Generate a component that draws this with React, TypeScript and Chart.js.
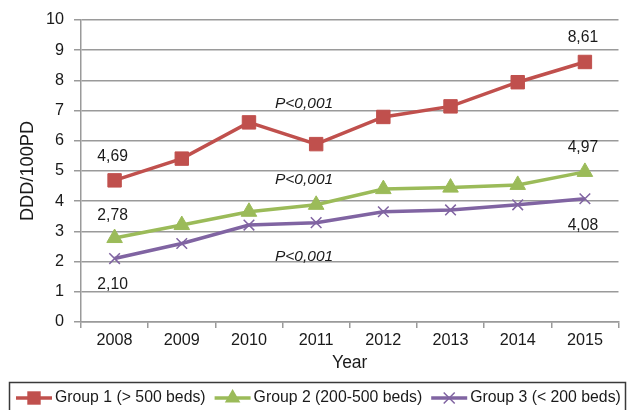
import React, { useEffect, useRef } from 'react';
import { Chart, registerables } from 'chart.js';

Chart.register(...registerables);

// ---- data ----
const years = ['2008', '2009', '2010', '2011', '2012', '2013', '2014', '2015'];
const group1 = [4.69, 5.41, 6.61, 5.89, 6.79, 7.14, 7.94, 8.61];
const group2 = [2.78, 3.21, 3.65, 3.88, 4.4, 4.45, 4.54, 4.97];
const group3 = [2.1, 2.6, 3.21, 3.29, 3.65, 3.71, 3.88, 4.08];
const seriesLabels = ['Group 1 (> 500 beds)', 'Group 2 (200-500 beds)', 'Group 3 (< 200 beds)'];
const yMin = 0;
const yMax = 10;
const yStep = 1;
const xTitle = 'Year';
const yTitle = 'DDD/100PD';
// value labels: [series index, category index, placement]
const valueLabelSeries = [0, 0, 1, 1, 2, 2];
const valueLabelIndex = [0, 7, 0, 7, 0, 7];
const valueLabelPlace = ['above', 'above', 'above', 'above', 'below', 'below'];
// significance annotations (category position, value)
const pText = 'P<0,001';
const pCategoryPos = [2.82, 2.82, 2.82];
const pValues = [7.23, 4.71, 2.15];

const colors = ['#C0504D', '#9BBB59', '#8064A2'];
const pointStyles = ['rect', 'triangle', 'crossRot'];
const FONT = "'Liberation Sans', Arial, sans-serif";
const TEXT = '#1a1a1a';
const GRID = '#9a9a9a';

function drawMarker(ctx: CanvasRenderingContext2D, style: string, x: number, y: number, color: string) {
  ctx.save();
  ctx.fillStyle = color;
  ctx.strokeStyle = color;
  if (style === 'rect') {
    const s = 6.7;
    ctx.fillRect(x - s, y - s, 2 * s, 2 * s);
  } else if (style === 'triangle') {
    const r = 9;
    ctx.beginPath();
    ctx.moveTo(x, y - r);
    ctx.lineTo(x + r * Math.sin((2 * Math.PI) / 3), y - r * Math.cos((2 * Math.PI) / 3));
    ctx.lineTo(x + r * Math.sin((4 * Math.PI) / 3), y - r * Math.cos((4 * Math.PI) / 3));
    ctx.closePath();
    ctx.fill();
  } else {
    const o = 5.5;
    ctx.lineWidth = 1.5;
    ctx.beginPath();
    ctx.moveTo(x - o, y - o);
    ctx.lineTo(x + o, y + o);
    ctx.moveTo(x + o, y - o);
    ctx.lineTo(x - o, y + o);
    ctx.stroke();
  }
  ctx.restore();
}

const annotationPlugin = {
  id: 'annotations',
  afterDatasetsDraw(chart: any) {
    const ctx = chart.ctx as CanvasRenderingContext2D;
    const xs = chart.scales.x;
    const ys = chart.scales.y;
    const seriesData = [group1, group2, group3];
    ctx.save();
    ctx.fillStyle = TEXT;
    ctx.font = `15.7px ${FONT}`;
    ctx.textAlign = 'center';
    ctx.textBaseline = 'middle';
    for (let i = 0; i < valueLabelSeries.length; i++) {
      const s = valueLabelSeries[i];
      const idx = valueLabelIndex[i];
      const v = seriesData[s][idx];
      const px = xs.getPixelForValue(idx) - 2;
      const py = ys.getPixelForValue(v);
      const text = v.toFixed(2).replace('.', ',');
      const dy = valueLabelPlace[i] === 'above' ? (s === 1 && idx === 0 ? -22.5 : -24) : 26.5;
      ctx.fillText(text, px, py + dy);
    }
    ctx.font = `italic 15.5px ${FONT}`;
    for (let i = 0; i < pValues.length; i++) {
      ctx.fillText(pText, xs.getPixelForValue(pCategoryPos[i]), ys.getPixelForValue(pValues[i]));
    }
    ctx.restore();
  },
  afterDraw(chart: any) {
    const ctx = chart.ctx as CanvasRenderingContext2D;
    ctx.save();
    // legend frame
    ctx.strokeStyle = '#3a3a3a';
    ctx.lineWidth = 1.5;
    ctx.strokeRect(9.5, 382.5, 616, 40);
    ctx.font = `15.8px ${FONT}`;
    ctx.textBaseline = 'middle';
    ctx.textAlign = 'left';
    const cy = 398;
    let x = 16;
    for (let i = 0; i < seriesLabels.length; i++) {
      ctx.strokeStyle = colors[i];
      ctx.lineWidth = 3.5;
      ctx.beginPath();
      ctx.moveTo(x, cy);
      ctx.lineTo(x + 36, cy);
      ctx.stroke();
      drawMarker(ctx, pointStyles[i], x + 18, cy, colors[i]);
      ctx.fillStyle = TEXT;
      ctx.fillText(seriesLabels[i], x + 39, cy);
      x += 39 + ctx.measureText(seriesLabels[i]).width + 9;
    }
    ctx.restore();
  },
};

export default function App() {
  const ref = useRef<HTMLCanvasElement | null>(null);
  useEffect(() => {
    if (!ref.current) return;
    const seriesData = [group1, group2, group3];
    const chart = new Chart(ref.current, {
      type: 'line',
      data: {
        labels: years,
        datasets: seriesData.map((d, i) => ({
          label: seriesLabels[i],
          data: d,
          borderColor: colors[i],
          backgroundColor: colors[i],
          borderWidth: 3.5,
          tension: 0,
          pointStyle: pointStyles[i] as any,
          pointRadius: i === 0 ? 9.5 : i === 1 ? 9 : 7.5,
          pointBorderWidth: i === 2 ? 1.5 : 1,
          pointBackgroundColor: colors[i],
          pointBorderColor: colors[i],
          fill: false,
        })),
      },
      options: {
        animation: false,
        responsive: false,
        events: [],
        layout: { padding: { left: 0, top: 20, right: 9, bottom: 36 } },
        plugins: {
          legend: { display: false },
          tooltip: { enabled: false },
        },
        scales: {
          x: {
            offset: true,
            grid: {
              offset: true,
              drawOnChartArea: false,
              drawTicks: true,
              tickLength: 6,
              color: GRID,
              lineWidth: 1.5,
            },
            border: { display: true, color: GRID, width: 1.5 },
            ticks: { color: TEXT, font: { family: FONT, size: 16.2 }, padding: 3, maxRotation: 0 },
            title: { display: true, text: xTitle, color: TEXT, font: { family: FONT, size: 17.5 }, padding: { top: 0, bottom: 0 } },
            afterFit(scale: any) {
              scale.height = 52;
            },
          },
          y: {
            min: yMin,
            max: yMax,
            grid: { color: GRID, lineWidth: 1.5, drawTicks: true, tickLength: 7 },
            border: { display: true, color: GRID, width: 1.5 },
            ticks: { stepSize: yStep, color: TEXT, font: { family: FONT, size: 16.2 }, padding: 10 },
            title: { display: true, text: yTitle, color: TEXT, font: { family: FONT, size: 18.2 }, padding: { top: 17, bottom: 0 } },
            afterFit(scale: any) {
              scale.width = 81;
            },
          },
        },
      },
      plugins: [annotationPlugin],
    });
    return () => chart.destroy();
  }, []);
  return (
    <div style={{ position: 'fixed', left: 0, top: 0, width: 629, height: 410, background: '#fff' }}>
      <canvas ref={ref} width={629} height={410} style={{ display: 'block' }} />
    </div>
  );
}
